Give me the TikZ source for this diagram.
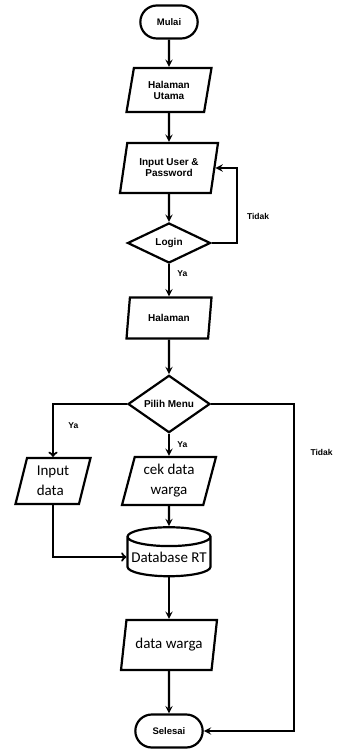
\documentclass[tikz,border=0pt]{standalone}
\usepackage{fontspec}
\setmainfont{Liberation Sans}
\newfontfamily\calibri{Carlito}
\usepackage{tikz}
\usetikzlibrary{positioning}
\usetikzlibrary{shapes.geometric, shapes.misc, arrows}
\tikzstyle{arrow} = [line width=2.2pt,->,>=stealth]
\tikzstyle{openarrow} = [line width=2.2pt,->,>=to]
\tikzstyle{terminal} = [draw,line width=2.2pt,rounded rectangle,minimum width=64pt,minimum height=33pt,font=\fontsize{9.5}{10}\selectfont\bfseries]
\tikzstyle{io} = [draw,line width=2.2pt,trapezium,trapezium left angle=70,trapezium right angle=110,trapezium stretches body,align=center,inner sep=1pt,font=\fontsize{10}{11}\selectfont\bfseries]
\tikzstyle{iobig} = [io,font=\fontsize{15}{20}\selectfont\calibri]
\tikzstyle{decision} = [draw,line width=2.2pt,diamond,inner sep=0pt,font=\fontsize{10}{11}\selectfont\bfseries]
\tikzstyle{store} = [draw,line width=2.2pt,cylinder,shape border rotate=90,aspect=0.25,inner sep=0pt,font=\fontsize{15}{18}\selectfont\calibri]
\tikzstyle{lbl} = [font=\fontsize{8.5}{10}\selectfont\bfseries]

\begin{document}
\begin{tikzpicture}[on grid]
	\useasboundingbox (0,0) rectangle (338pt,-751pt);
	
	%Nodes
	\node (mulai) [terminal] at (169pt,-22pt) {Mulai};
	\node (utama) [io,minimum width=85pt,minimum height=44pt,below=68pt of mulai] {Halaman\\Utama};
	\node (inpuser) [io,minimum width=98pt,minimum height=50pt,below=78pt of utama] {Input User \&\\Password};
	\node (login) [decision,minimum width=83pt,minimum height=40pt,below=75pt of inpuser] {Login};
	\node (halaman) [io,minimum width=85pt,minimum height=41pt,below=75pt of login] {Halaman};
	\node (menu) [decision,minimum width=82pt,minimum height=38pt,below=86pt of halaman] {Pilih Menu};
	\node (cek) [iobig,minimum width=94pt,minimum height=48pt,below=77pt of menu] {cek data\\warga};
	\node (inpdata) [iobig,minimum width=75pt,minimum height=46pt,left=116pt of cek,align=left] {Input\\data};
	\node (dbrt) [store,minimum width=83pt,minimum height=49pt,below=76pt of cek] {Database RT};
	\node (warga) [iobig,minimum width=96pt,minimum height=50pt,below=88pt of dbrt] {data warga};
	\node (selesai) [terminal,minimum width=74pt,minimum height=33pt,below=86pt of warga] {Selesai};
	
	%Lines
	\draw[arrow] (mulai) -- (utama);
	\draw[arrow] (utama) -- (inpuser);
	\draw[arrow] (inpuser) -- (login);
	\draw[arrow] (login.east) -- ++(25pt,0) |- node[lbl,pos=0.18,right=6pt]{Tidak} (inpuser.east);
	\draw[arrow] (login) -- node[lbl,pos=0.3,right=4pt]{Ya} (halaman);
	\draw[arrow] (halaman) -- (menu);
	\draw[openarrow] (menu.west) -| node[lbl,pos=0.7,right=11pt]{Ya} (inpdata);
	\draw[arrow] (menu) -- node[lbl,pos=0.5,right=4pt]{Ya} (cek);
	\draw[arrow] (menu.east) -- ++(83pt,0) |- node[lbl,pos=0.074,right=12pt]{Tidak} (selesai.east);
	\draw[openarrow] (inpdata.south) |- (dbrt.west);
	\draw[arrow] (cek) -- (dbrt);
	\draw[arrow] (dbrt) -- (warga);
	\draw[arrow] (warga) -- (selesai);
	
\end{tikzpicture}
\end{document}
